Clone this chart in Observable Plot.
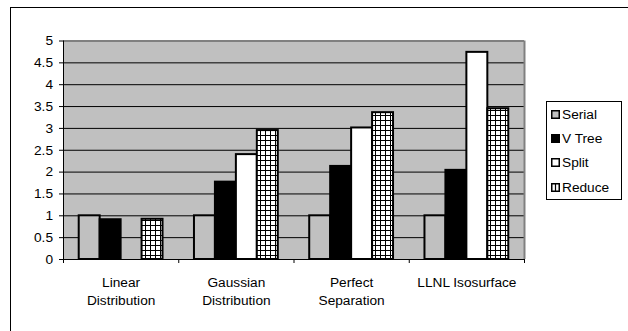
<!DOCTYPE html>
<html>
<head>
<meta charset="utf-8">
<script src="https://cdn.jsdelivr.net/npm/d3@7"></script>
<script src="https://cdn.jsdelivr.net/npm/@observablehq/plot@0.6"></script>
<style>
  html, body { margin: 0; padding: 0; background: #fff; }
  #chart { position: relative; width: 628px; height: 331px; overflow: hidden; font-family: "Liberation Sans", Arial, sans-serif; }
  #outline { position: absolute; left: 10px; top: 7px; width: 700px; height: 400px; border-left: 1.5px solid #000; border-top: 1.5px solid #000; }
  #plot { position: absolute; left: 0; top: 0; }
  #legend { position: absolute; left: 546px; top: 101px; width: 74px; height: 97px; border: 1px solid #000; background: #fff; }
  .item { height: 24.4px; display: flex; align-items: center; font-size: 13.7px; color: #000; }
  .item svg { margin-left: 4px; margin-right: 2px; flex: none; }
</style>
</head>
<body>
<div id="chart">
  <div id="outline"></div>
  <div id="plot"></div>
  <div id="legend"></div>
</div>
<script>
// Speed-up of each algorithm relative to the serial run
const categories = ["Linear\nDistribution", "Gaussian\nDistribution", "Perfect\nSeparation", "LLNL Isosurface"];
const series = ["Serial", "V Tree", "Split", "Reduce"];
const serial = [1, 1, 1, 1];
const vTree = [0.91, 1.77, 2.13, 2.04];
const split = [null, 2.40, 3.01, 4.74];
const reduce = [0.92, 2.95, 3.36, 3.45];
const yTicks = [0, 0.5, 1, 1.5, 2, 2.5, 3, 3.5, 4, 4.5, 5];

const values = [serial, vTree, split, reduce];
const fills = {"Serial": "#c0c0c0", "V Tree": "#000", "Split": "#fff", "Reduce": "url(#grid)"};

// Clustered bars: each category spans one unit, bars share it with a 150% gap
const gap = 1.5;
const w = 1 / (series.length + gap);
const rows = [];
categories.forEach((c, i) => {
  series.forEach((s, k) => {
    const v = values[k][i];
    if (v == null) return;
    rows.push({series: s, value: v, x1: i + (gap / 2 + k) * w, x2: i + (gap / 2 + k + 1) * w});
  });
});

const plot = Plot.plot({
  width: 628,
  height: 331,
  marginLeft: 63,
  marginRight: 104,
  marginTop: 40.5,
  marginBottom: 72,
  style: {fontFamily: "'Liberation Sans', Arial, sans-serif", fontSize: "13.7px", background: "transparent", color: "#000", overflow: "visible"},
  x: {domain: [0, categories.length], axis: null},
  y: {domain: [0, 5], axis: null},
  marks: [
    Plot.frame({fill: "#c0c0c0", stroke: "none"}),
    Plot.ruleY(yTicks.filter(d => d > 0 && d < 5), {stroke: "#000", strokeWidth: 1}),
    Plot.ruleY([5], {stroke: "#808080", strokeWidth: 2}),
    Plot.ruleX([categories.length], {stroke: "#808080", strokeWidth: 2}),
    ...series.map(s => Plot.rectY(rows.filter(r => r.series === s), {
      x1: "x1", x2: "x2", y1: 0, y2: "value",
      fill: fills[s], stroke: "#000", strokeWidth: 2
    })),
    Plot.ruleX([0], {stroke: "#000", strokeWidth: 1}),
    Plot.ruleY([0], {stroke: "#000", strokeWidth: 1}),
    Plot.axisY({ticks: yTicks, tickSize: 4, tickPadding: 6.5, tickFormat: d => String(d), fontSize: 13.7, label: null}),
    Plot.axisX({ticks: d3.range(categories.length + 1), tickSize: 4, tickFormat: () => "", label: null}),
    Plot.text(categories, {
      x: (d, i) => i + 0.5, y: 0, text: d => d,
      lineAnchor: "top", dy: 14.5, lineHeight: 1.34, fontSize: 13.7, fill: "#000"
    })
  ]
});

// Crosshatch used by the Reduce bars
plot.insertAdjacentHTML("afterbegin",
  '<defs><pattern id="grid" patternUnits="userSpaceOnUse" width="5" height="5">' +
  '<rect width="5" height="5" fill="#fff"/>' +
  '<path d="M0 0.5H5M0.5 0V5" stroke="#000" stroke-width="1"/></pattern></defs>');
document.getElementById("plot").appendChild(plot);

// Legend
const swatch = {
  "Serial": '<rect x="0.75" y="0.75" width="7.5" height="7.5" fill="#c0c0c0" stroke="#000" stroke-width="1.5"/>',
  "V Tree": '<rect x="0.75" y="0.75" width="7.5" height="7.5" fill="#000" stroke="#000" stroke-width="1.5"/>',
  "Split": '<rect x="0.75" y="0.75" width="7.5" height="7.5" fill="#fff" stroke="#000" stroke-width="1.5"/>',
  "Reduce": '<rect x="0.75" y="0.75" width="7.5" height="7.5" fill="#fff" stroke="#000" stroke-width="1.5"/><path d="M4.5 1V8" stroke="#000" stroke-width="1.2"/>'
};
const legend = document.getElementById("legend");
series.forEach(s => {
  const div = document.createElement("div");
  div.className = "item";
  div.innerHTML = '<svg width="9" height="9">' + swatch[s] + '</svg><span>' + s + '</span>';
  legend.appendChild(div);
});
</script>
</body>
</html>
